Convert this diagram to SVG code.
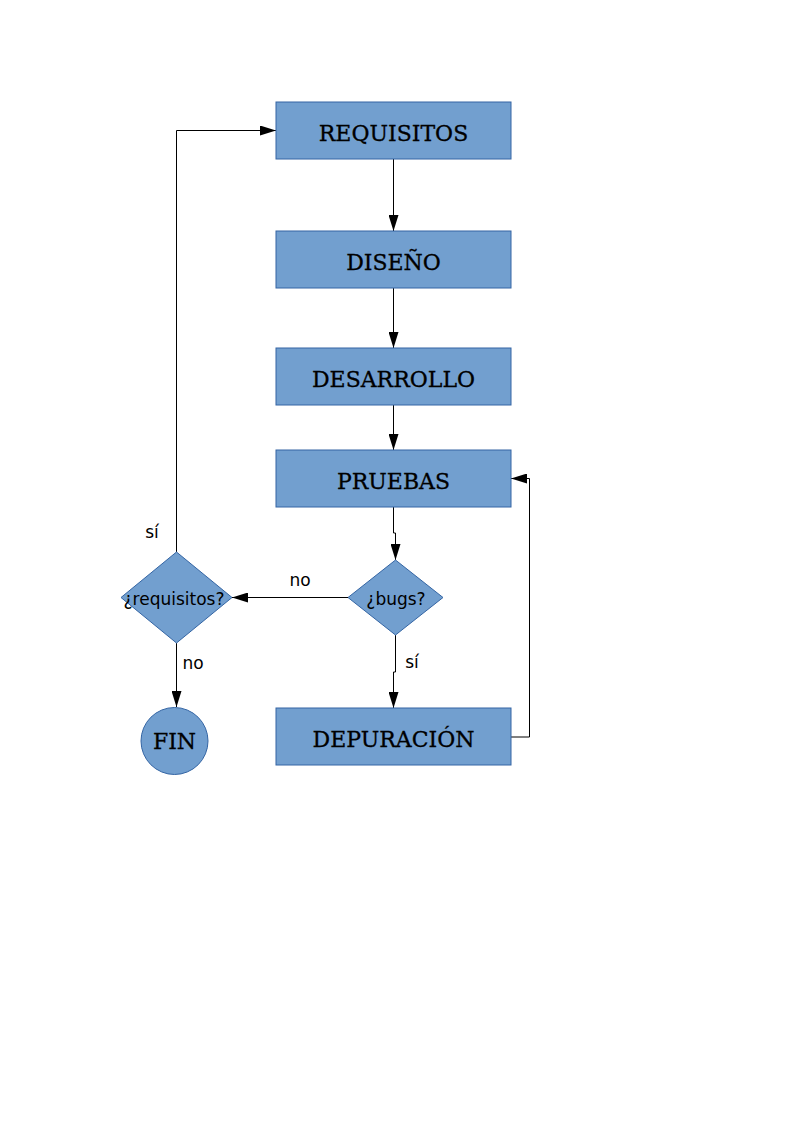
<svg xmlns="http://www.w3.org/2000/svg" width="794" height="1123" viewBox="0 0 794 1123">
<defs>
<marker id="arr" markerWidth="16" markerHeight="10" refX="16" refY="5" orient="auto" markerUnits="userSpaceOnUse">
<path d="M0,0 L16,5 L0,10 Z" fill="#000"/>
</marker>
<style>
.box{fill:#729fcf;stroke:#3465a4;stroke-width:1}
.t{font-family:"DejaVu Serif","Liberation Serif",serif;font-size:22px;fill:#000;stroke:#000;stroke-width:0.3;text-anchor:middle}
.s{font-family:"DejaVu Sans","Liberation Sans",sans-serif;font-size:17px;fill:#000}
.c{fill:none;stroke:#000;stroke-width:1}
</style>
</defs>
<rect width="794" height="1123" fill="#fff"/>
<g id="connectors">
<path class="c" d="M393.5,159 V231" marker-end="url(#arr)"/>
<path class="c" d="M393.5,288 V348" marker-end="url(#arr)"/>
<path class="c" d="M393.5,405 V450" marker-end="url(#arr)"/>
<path class="c" d="M393.5,507 V533 H395.5 V560" marker-end="url(#arr)"/>
<path class="c" d="M348,597.5 H232" marker-end="url(#arr)"/>
<path class="c" d="M395.5,635 V672 H393.5 V708" marker-end="url(#arr)"/>
<path class="c" d="M511,737 H529.5 V478.5 H511" marker-end="url(#arr)"/>
<path class="c" d="M176.5,552 V130.5 H276" marker-end="url(#arr)"/>
<path class="c" d="M176.5,643 V707" marker-end="url(#arr)"/>
<text class="s" x="300" y="586" text-anchor="middle">no</text>
<text class="s" x="152" y="538" text-anchor="middle">sí</text>
<text class="s" x="193" y="669" text-anchor="middle">no</text>
<text class="s" x="412" y="668" text-anchor="middle">sí</text>
</g>
<g id="requisitos"><rect class="box" x="276" y="102" width="235" height="57"/><text class="t" x="393.5" y="141">REQUISITOS</text></g>
<g id="diseno"><rect class="box" x="276" y="231" width="235" height="57"/><text class="t" x="393.5" y="270">DISEÑO</text></g>
<g id="desarrollo"><rect class="box" x="276" y="348" width="235" height="57"/><text class="t" x="393.5" y="387">DESARROLLO</text></g>
<g id="pruebas"><rect class="box" x="276" y="450" width="235" height="57"/><text class="t" x="393.5" y="489">PRUEBAS</text></g>
<g id="depuracion"><rect class="box" x="276" y="708" width="235" height="57"/><text class="t" x="393.5" y="747">DEPURACIÓN</text></g>
<g id="bugs"><path class="box" d="M395.5,560 L443,597.5 L395.5,635 L348,597.5 Z"/><text class="s" x="396" y="605" text-anchor="middle">¿bugs?</text></g>
<g id="req-q"><path class="box" d="M176.5,552 L232,597.5 L176.5,643 L121,597.5 Z"/><text class="s" x="174" y="605" text-anchor="middle">¿requisitos?</text></g>
<g id="fin"><circle class="box" cx="174.5" cy="741" r="33.5"/><text class="t" x="174.5" y="749">FIN</text></g>
</svg>
